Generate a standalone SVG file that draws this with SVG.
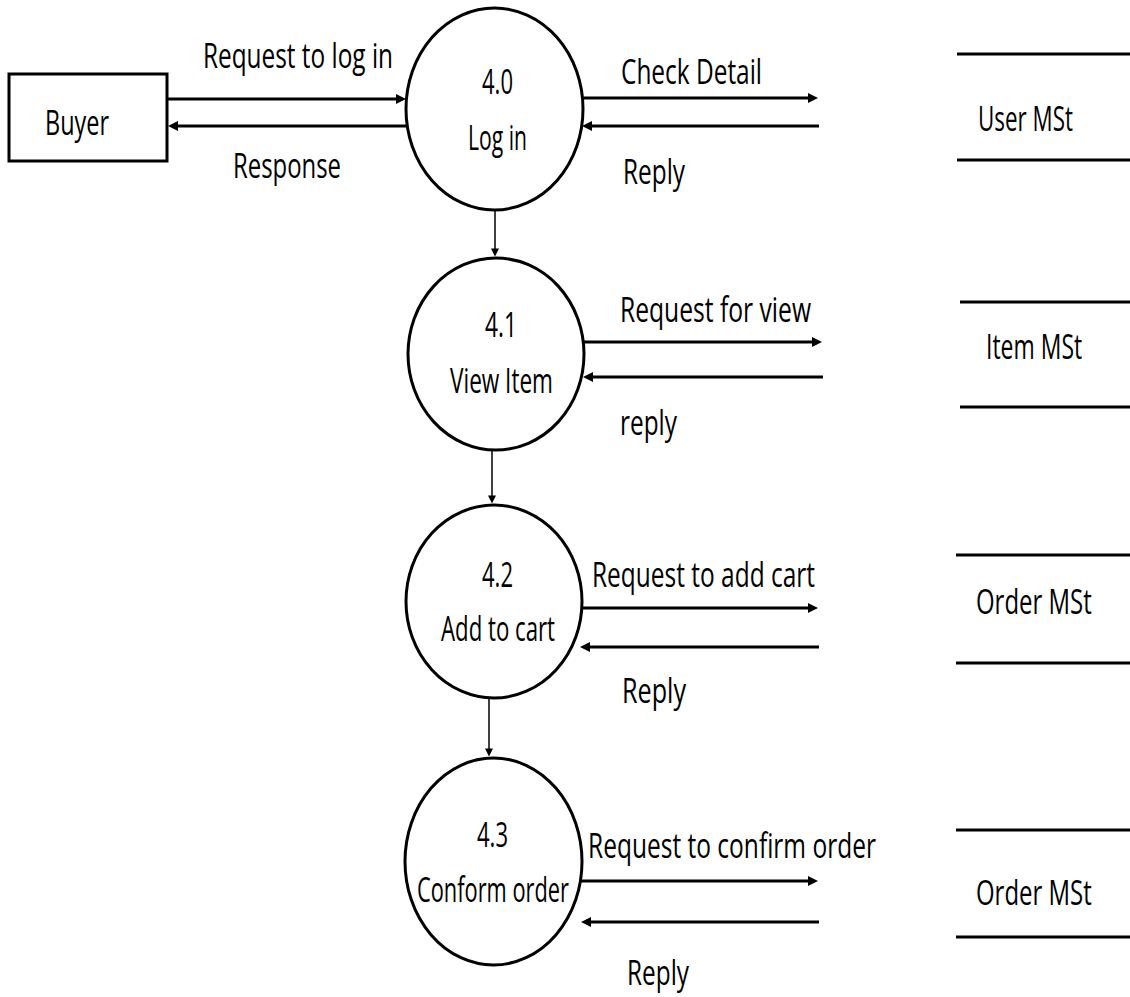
<svg xmlns="http://www.w3.org/2000/svg" width="1130" height="997" viewBox="0 0 1130 997">
<style>
.shape{fill:#fff;stroke:#000;stroke-width:3}
.flow{fill:none;stroke:#000;stroke-width:3;marker-end:url(#ah)}
.vflow{fill:none;stroke:#000;stroke-width:1.5;marker-end:url(#av)}
.store{stroke:#000;stroke-width:3}
text{font-family:"Open Sans","Liberation Sans",sans-serif;font-size:35px;fill:#000}
</style>
<defs>
<marker id="ah" viewBox="0 0 10 10" refX="3" refY="5" markerWidth="10" markerHeight="10" markerUnits="userSpaceOnUse" orient="auto"><path d="M0,0 L10,5 L0,10 z" fill="#000"/></marker>
<marker id="av" viewBox="0 0 10 10" refX="3" refY="5" markerWidth="10" markerHeight="8" markerUnits="userSpaceOnUse" orient="auto"><path d="M0,0 L10,5 L0,10 z" fill="#000"/></marker>
</defs>
<rect width="1130" height="997" fill="#fff"/>
<g id="connectors">
<path class="flow" d="M167,99 H399"/>
<path class="flow" d="M407,126 H175"/>
<path class="flow" d="M582,98 H811"/>
<path class="flow" d="M819,126 H589"/>
<path class="vflow" d="M495,210 V251"/>
<path class="flow" d="M583,342 H815"/>
<path class="flow" d="M823,377 H590"/>
<path class="vflow" d="M492,450 V498"/>
<path class="flow" d="M582,608 H811"/>
<path class="flow" d="M819,647 H587"/>
<path class="vflow" d="M489,698 V751"/>
<path class="flow" d="M580,881 H811"/>
<path class="flow" d="M819,922 H588"/>
<text x="203" y="68" textLength="190" lengthAdjust="spacingAndGlyphs">Request to log in</text>
<text x="233" y="178" textLength="108" lengthAdjust="spacingAndGlyphs">Response</text>
<text x="621" y="84" textLength="141" lengthAdjust="spacingAndGlyphs">Check Detail</text>
<text x="623" y="184" textLength="62" lengthAdjust="spacingAndGlyphs">Reply</text>
<text x="620" y="322" textLength="191" lengthAdjust="spacingAndGlyphs">Request for view</text>
<text x="620" y="435" textLength="57" lengthAdjust="spacingAndGlyphs">reply</text>
<text x="592" y="587" textLength="223" lengthAdjust="spacingAndGlyphs">Request to add cart</text>
<text x="622" y="703" textLength="64" lengthAdjust="spacingAndGlyphs">Reply</text>
<text x="588" y="858" textLength="288" lengthAdjust="spacingAndGlyphs">Request to confirm order</text>
<text x="627" y="985" textLength="62" lengthAdjust="spacingAndGlyphs">Reply</text>
</g>
<g id="buyer">
<rect class="shape" x="9" y="74" width="158" height="87"/>
<text x="45" y="135" textLength="64" lengthAdjust="spacingAndGlyphs">Buyer</text>
</g>
<g id="p40">
<ellipse class="shape" cx="494.5" cy="109" rx="88.5" ry="101"/>
<text x="482" y="94" textLength="31" lengthAdjust="spacingAndGlyphs">4.0</text>
<text x="468" y="150" textLength="59" lengthAdjust="spacingAndGlyphs">Log in</text>
</g>
<g id="p41">
<ellipse class="shape" cx="496" cy="354" rx="88" ry="96"/>
<text x="485" y="337" textLength="32" lengthAdjust="spacingAndGlyphs">4.1</text>
<text x="450" y="393" textLength="103" lengthAdjust="spacingAndGlyphs">View Item</text>
</g>
<g id="p42">
<ellipse class="shape" cx="494" cy="601.5" rx="88" ry="96.5"/>
<text x="482" y="587" textLength="31" lengthAdjust="spacingAndGlyphs">4.2</text>
<text x="441" y="641" textLength="114" lengthAdjust="spacingAndGlyphs">Add to cart</text>
</g>
<g id="p43">
<ellipse class="shape" cx="493.5" cy="861.5" rx="88.5" ry="103.5"/>
<text x="477" y="847" textLength="31" lengthAdjust="spacingAndGlyphs">4.3</text>
<text x="417" y="902" textLength="152" lengthAdjust="spacingAndGlyphs">Conform order</text>
</g>
<g id="store-user">
<line class="store" x1="957" y1="54" x2="1130" y2="54"/>
<line class="store" x1="957" y1="160" x2="1130" y2="160"/>
<text transform="translate(978,131) scale(0.65,1)" x="0" y="0" textLength="146" lengthAdjust="spacingAndGlyphs">User MSt</text>
</g>
<g id="store-item">
<line class="store" x1="960" y1="302" x2="1130" y2="302"/>
<line class="store" x1="960" y1="407" x2="1130" y2="407"/>
<text transform="translate(986,359) scale(0.65,1)" x="0" y="0" textLength="148" lengthAdjust="spacingAndGlyphs">Item MSt</text>
</g>
<g id="store-order1">
<line class="store" x1="956" y1="555" x2="1130" y2="555"/>
<line class="store" x1="956" y1="663" x2="1130" y2="663"/>
<text transform="translate(976,614) scale(0.65,1)" x="0" y="0" textLength="178" lengthAdjust="spacingAndGlyphs">Order MSt</text>
</g>
<g id="store-order2">
<line class="store" x1="956" y1="830" x2="1130" y2="830"/>
<line class="store" x1="956" y1="937" x2="1130" y2="937"/>
<text transform="translate(976,905) scale(0.65,1)" x="0" y="0" textLength="178" lengthAdjust="spacingAndGlyphs">Order MSt</text>
</g>
</svg>
